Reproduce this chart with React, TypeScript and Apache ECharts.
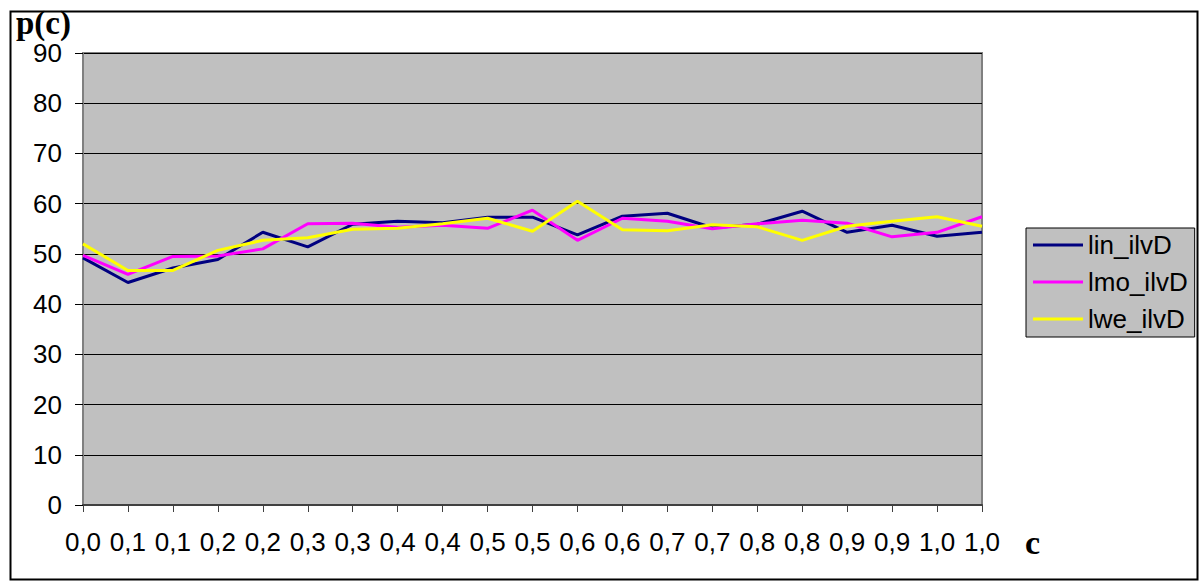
import React, { useEffect, useRef } from "react";
import * as echarts from "echarts";

const categories = ["0,0","0,1","0,1","0,2","0,2","0,3","0,3","0,4","0,4","0,5","0,5","0,6","0,6","0,7","0,7","0,8","0,8","0,9","0,9","1,0","1,0"];
const linIlvD = [49.2,44.3,47.2,48.9,54.3,51.4,55.9,56.5,56.2,57.3,57.3,53.8,57.5,58.1,55.2,55.9,58.5,54.3,55.7,53.5,54.3];
const lmoIlvD = [49.7,45.9,49.5,49.6,51.0,56.0,56.1,55.3,55.7,55.1,58.7,52.7,57.1,56.5,55.0,56.0,56.7,56.1,53.4,54.3,57.4];
const lweIlvD = [52.0,46.7,46.7,50.7,52.7,53.2,54.9,55.1,56.0,57.1,54.5,60.5,54.8,54.6,55.8,55.4,52.7,55.5,56.5,57.4,55.5];
const yTicks = { min: 0, max: 90, interval: 10 };

export default function App() {
  const ref = useRef<HTMLDivElement>(null);
  useEffect(() => {
    document.body.style.margin = "0";
    const chart = echarts.init(ref.current!, null, { renderer: "svg" });
    const font = "'Liberation Sans', Arial, sans-serif";
    const serif = "'Liberation Serif', 'Times New Roman', serif";
    chart.setOption({
      animation: false,
      backgroundColor: "#ffffff",
      grid: {
        left: 83, top: 53, right: 218, bottom: 79,
        show: true, backgroundColor: "#c0c0c0", borderColor: "#808080", borderWidth: 2,
        containLabel: false,
      },
      legend: {
        orient: "vertical", left: 1026, top: 228,
        backgroundColor: "#c0c0c0", borderColor: "#000000", borderWidth: 1,
        padding: [4, 7, 5, 7], itemGap: 11, itemWidth: 50, itemHeight: 3, itemTextGap: 5,
        icon: "rect",
        textStyle: { fontFamily: font, fontSize: 26, color: "#000" },
        data: ["lin_ilvD", "lmo_ilvD", "lwe_ilvD"],
      },
      xAxis: {
        type: "category", data: categories, boundaryGap: false,
        axisLine: { show: true, lineStyle: { color: "#404040", width: 2 } },
        axisTick: { show: true, length: 7, interval: 0, lineStyle: { color: "#404040", width: 1 } },
        axisLabel: { interval: 0, margin: 24, fontFamily: font, fontSize: 26, color: "#000" },
        splitLine: { show: false },
      },
      yAxis: {
        type: "value", min: yTicks.min, max: yTicks.max, interval: yTicks.interval,
        axisLine: { show: true, lineStyle: { color: "#808080", width: 2 } },
        axisTick: { show: true, length: 8, lineStyle: { color: "#000", width: 1 } },
        axisLabel: { margin: 21, fontFamily: font, fontSize: 26, color: "#000" },
        splitLine: { show: true, lineStyle: { color: "#000", width: 1 } },
      },
      series: [
        { name: "lin_ilvD", type: "line", data: linIlvD, showSymbol: false, symbol: "none", color: "#000080", lineStyle: { width: 3, color: "#000080" } },
        { name: "lmo_ilvD", type: "line", data: lmoIlvD, showSymbol: false, symbol: "none", color: "#ff00ff", lineStyle: { width: 3, color: "#ff00ff" } },
        { name: "lwe_ilvD", type: "line", data: lweIlvD, showSymbol: false, symbol: "none", color: "#ffff00", lineStyle: { width: 3, color: "#ffff00" } },
      ],
      graphic: [
        { type: "rect", left: 8, top: 9, shape: { width: 1187, height: 568 }, style: { fill: "none", stroke: "#000", lineWidth: 2 }, silent: true, z: -1 },
        { type: "text", left: 16, top: 6, style: { text: "p(c)", font: `bold 33px ${serif}`, fill: "#000" } },
        { type: "text", left: 1025, top: 525, style: { text: "c", font: `bold 34px ${serif}`, fill: "#000" } },
      ],
    });
    return () => chart.dispose();
  }, []);
  return <div ref={ref} style={{ width: 1200, height: 584 }} />;
}
